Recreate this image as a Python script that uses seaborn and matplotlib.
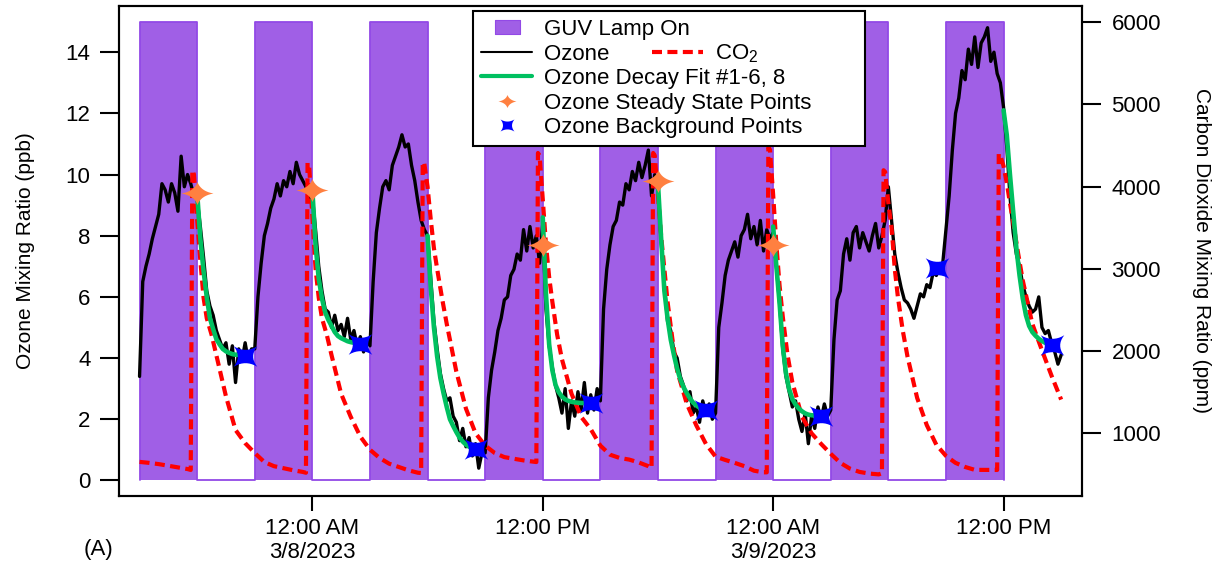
import numpy as np
import pandas as pd
import matplotlib
matplotlib.use("Agg")
import matplotlib.pyplot as plt
import matplotlib.transforms as mtransforms
from matplotlib.path import Path
from matplotlib.lines import Line2D
import seaborn as sns

# ------------------------------------------------------------------ data
# time axis: hours since 3/7/2023 00:00
lamp_on_start_h = [15, 21, 27, 33, 39, 45, 51, 57]
lamp_on_end_h = [18, 24, 30, 36, 42, 48, 54, 60]
lamp_level_ppb = 15

# ozone (ppb), 10-minute readings starting 3/7 15:00, one list per 6 h cycle
ozone_start_h = 15.0
ozone_step_min = 10
ozone_c1 = [3.4, 6.5, 7.0, 7.4, 7.9, 8.3, 8.7, 9.7, 9.5, 9.1, 9.7, 9.4, 8.8, 10.6, 9.6, 10.0, 9.7, 9.3,
            9.2, 8.3, 7.3, 6.2, 5.7, 5.4, 4.9, 4.6, 4.3, 4.5, 3.8, 4.4, 3.2, 4.3, 3.9, 4.5, 3.9, 4.3]
ozone_c2 = [4.3, 6.0, 7.1, 8.0, 8.4, 8.9, 9.2, 9.7, 9.3, 9.8, 9.6, 10.1, 9.7, 10.4, 10.0, 9.8, 9.6, 9.2,
            9.3, 8.2, 7.0, 6.2, 5.6, 5.5, 5.0, 5.4, 4.9, 5.1, 4.7, 5.3, 4.6, 4.9, 4.4, 4.7, 4.2, 4.6]
ozone_c3 = [4.4, 6.5, 8.1, 8.9, 9.6, 9.8, 9.5, 10.3, 10.6, 10.9, 11.3, 10.9, 11.0, 10.3, 9.8, 9.1, 8.5, 8.2,
            8.0, 6.6, 5.2, 4.3, 3.5, 3.0, 2.6, 2.7, 2.1, 1.9, 1.3, 1.7, 1.1, 1.4, 0.8, 1.2, 0.4, 0.9]
ozone_c4 = [0.9, 2.7, 3.6, 4.2, 4.9, 5.3, 5.9, 6.0, 6.7, 6.9, 7.4, 7.2, 8.2, 7.5, 8.3, 7.6, 8.0, 7.1,
            8.4, 5.6, 4.4, 3.7, 3.1, 2.7, 2.2, 3.0, 1.7, 2.6, 2.1, 2.9, 2.3, 3.2, 2.2, 2.8, 2.3, 3.0]
ozone_c5 = [2.6, 5.6, 6.9, 7.7, 8.3, 8.5, 9.1, 9.0, 9.7, 9.5, 10.1, 9.8, 10.4, 9.9, 10.3, 10.8, 9.3, 10.0,
            9.6, 7.8, 6.4, 5.2, 4.9, 4.2, 4.0, 3.4, 3.1, 2.6, 2.9, 2.2, 2.4, 1.9, 2.6, 2.2, 2.5, 2.0]
ozone_c6 = [2.2, 5.0, 5.8, 6.7, 7.2, 7.5, 7.8, 7.3, 8.0, 8.2, 8.7, 7.9, 8.3, 7.7, 8.5, 7.5, 8.2, 7.9,
            8.1, 7.0, 5.8, 4.3, 3.4, 2.9, 2.4, 2.6, 2.0, 1.6, 2.2, 1.2, 2.1, 1.7, 2.4, 2.0, 2.5, 2.1]
ozone_c7 = [2.3, 4.6, 5.9, 6.2, 7.4, 7.9, 7.2, 8.1, 8.3, 7.6, 8.1, 7.8, 7.5, 8.0, 8.4, 7.6, 8.0, 8.5,
            9.6, 8.5, 7.4, 6.8, 6.3, 5.9, 5.8, 5.6, 5.3, 5.7, 6.1, 6.0, 6.4, 6.3, 6.8, 6.7, 7.0, 7.1]
ozone_c8 = [8.2, 9.3, 10.8, 12.0, 12.5, 13.4, 13.1, 14.1, 13.6, 14.5, 13.5, 14.3, 14.5, 14.8, 13.7, 14.0, 13.3, 13.0,
            12.2, 10.9, 9.3, 8.1, 7.4, 7.0, 6.4, 6.0, 5.7, 5.5, 5.6, 6.0, 5.0, 4.8, 4.9, 4.5, 4.2, 3.8, 4.1]

# CO2 (ppm): readings before the first lamp-off, then per cycle at offsets from lamp-off
co2_pre_offsets_min = [-180, -150, -120, -90, -60, -30]
co2_pre_ppm = [652, 640, 625, 605, 585, 565]
co2_offsets_min = [-20, -15, -10, 0, 10, 20, 30, 45, 60, 90, 120, 150, 180, 210, 240, 270, 300, 330]
co2_c1 = [554, 4200, 4150, 3600, 3100, 2650, 2400, 2200, 1950, 1450, 1040, 880, 760, 650, 600, 575, 550, 530]
co2_c2 = [520, 4290, 4250, 3650, 3000, 2650, 2400, 2200, 1950, 1480, 1200, 960, 800, 700, 630, 590, 550, 520]
co2_c3 = [517, 4300, 4280, 4000, 3600, 3250, 3000, 2650, 2330, 1750, 1300, 1000, 850, 760, 710, 690, 670, 655]
co2_c4 = [650, 4410, 4380, 3850, 3300, 2900, 2600, 2200, 1900, 1480, 1200, 1050, 850, 740, 700, 680, 645, 600]
co2_c5 = [578, 4410, 4380, 3900, 3400, 3000, 2600, 2150, 1760, 1360, 1095, 870, 716, 676, 640, 600, 545, 525]
co2_c6 = [525, 4480, 4450, 3900, 3300, 2800, 2420, 1950, 1620, 1200, 1000, 870, 750, 640, 570, 530, 510, 500]
co2_c7 = [513, 4200, 4180, 3800, 3500, 3000, 2650, 2250, 1930, 1430, 1100, 860, 725, 640, 590, 555, 554, 554]
co2_c8 = [554, 4400, 4380, 4250, 4050, 3800, 3570, 3200, 2860, 2330, 2010, 1700, 1410]

# ozone decay fits (ppb), 10-minute readings from lamp-off
fit_start_h = [18, 24, 30, 36, 42, 48, 60]
fit_step_min = 10
fit_1 = [9.4, 7.9, 6.85, 6.0, 5.3, 4.95, 4.62, 4.45, 4.3, 4.22, 4.17, 4.13, 4.11, 4.1, 4.09, 4.08]
fit_2 = [9.5, 7.7, 6.6, 5.95, 5.5, 5.25, 5.05, 4.85, 4.72, 4.65, 4.6, 4.55, 4.52, 4.5, 4.48, 4.47]
fit_3 = [8.0, 6.3, 5.0, 4.05, 3.35, 2.85, 2.4, 2.0, 1.78, 1.58, 1.4, 1.27, 1.17, 1.1, 1.06, 1.04]
fit_4 = [8.6, 6.1, 4.45, 3.6, 3.12, 2.88, 2.74, 2.65, 2.6, 2.57, 2.55, 2.54, 2.53, 2.53, 2.52, 2.52]
fit_5 = [9.7, 7.9, 6.2, 5.3, 4.6, 4.1, 3.65, 3.3, 3.05, 2.85, 2.68, 2.54, 2.45, 2.38, 2.33, 2.3]
fit_6 = [8.3, 7.0, 5.8, 4.4, 3.5, 2.98, 2.66, 2.48, 2.35, 2.26, 2.19, 2.15, 2.13, 2.12, 2.11, 2.11]
fit_8 = [12.1, 11.3, 10.0, 8.8, 7.6, 6.7, 5.95, 5.4, 5.05, 4.85, 4.73, 4.63, 4.56, 4.5, 4.46, 4.43]

steady_h = [18, 24, 36, 42, 48]
steady_ppb = [9.4, 9.5, 7.7, 9.8, 7.7]
background_h = [20.5, 26.5, 32.5, 38.5, 44.5, 50.5, 56.55, 62.5]
background_ppb = [4.08, 4.47, 1.04, 2.52, 2.3, 2.11, 6.93, 4.43]

xtick_h = [24, 36, 48, 60]
xtick_labels = ["12:00 AM\n3/8/2023", "12:00 PM", "12:00 AM\n3/9/2023", "12:00 PM"]
left_ticks = [0, 2, 4, 6, 8, 10, 12, 14]
right_ticks = [1000, 2000, 3000, 4000, 5000, 6000]

# ------------------------------------------------------------------ style
PURPLE = "#A05FE6"
PURPLE_EDGE = "#9249E6"
GREEN = "#00C060"
ORANGE = "#FF8040"
BLUE = "#0000FF"
FS = 16       # tick labels / legend
FS_LAB = 15   # axis labels

sns.set_style("ticks")
plt.rcParams["font.family"] = ["Liberation Sans", "DejaVu Sans"]
plt.rcParams["mathtext.fontset"] = "custom"
plt.rcParams["mathtext.rm"] = "Liberation Sans"
plt.rcParams["mathtext.it"] = "Liberation Sans:italic"
plt.rcParams["mathtext.bf"] = "Liberation Sans:bold"
for k in ["axes.edgecolor", "xtick.color", "ytick.color", "text.color", "axes.labelcolor"]:
    plt.rcParams[k] = "black"
plt.rcParams["axes.linewidth"] = 1.5


def concave_marker(tips, pull, n=10):
    verts = []
    for i in range(len(tips)):
        p0 = np.array(tips[i], float)
        p2 = np.array(tips[(i + 1) % len(tips)], float)
        c = pull * (p0 + p2)
        for t in np.linspace(0, 1, n)[:-1]:
            verts.append((1 - t) ** 2 * p0 + 2 * (1 - t) * t * c + t ** 2 * p2)
    verts.append(verts[0])
    return Path(np.array(verts), closed=True)


star_marker = concave_marker([(1, 0), (0, 0.72), (-1, 0), (0, -0.72)], 0.2)
bg_marker = concave_marker([(1, 0.87), (-1, 0.87), (-1, -0.87), (1, -0.87)], 0.15)
rect_marker = Path([(-1, -0.56), (1, -0.56), (1, 0.56), (-1, 0.56), (-1, -0.56)], closed=True)

W, H = 1227, 571
fig = plt.figure(figsize=(W / 100, H / 100), dpi=100)
ax = fig.add_axes([119 / W, 1 - 496 / H, (1081.7 - 119) / W, 490 / H])
ax2 = ax.twinx()

ax.set_xlim(13.93, 64.07)
ax.set_ylim(-0.51, 15.51)
ax2.set_ylim(237, 6198)

# lamp-on bars + step outline
starts = np.array(lamp_on_start_h, float)
ends = np.array(lamp_on_end_h, float)
ax.bar(starts, [lamp_level_ppb] * len(starts), width=ends - starts, align="edge",
       color=PURPLE, linewidth=0, zorder=1)
edge_t, edge_v = [], []
for s, e in zip(starts, ends):
    edge_t += [s, s, e, e]
    edge_v += [0, lamp_level_ppb, lamp_level_ppb, 0]
ax.plot(edge_t, edge_v, color=PURPLE_EDGE, linewidth=1.3, zorder=1.5)

# ozone
ozone_ppb = ozone_c1 + ozone_c2 + ozone_c3 + ozone_c4 + ozone_c5 + ozone_c6 + ozone_c7 + ozone_c8
ozone_h = ozone_start_h + np.arange(len(ozone_ppb)) * ozone_step_min / 60.0
sns.lineplot(x=ozone_h, y=ozone_ppb, ax=ax, color="black", linewidth=2.4,
             estimator=None, sort=False, zorder=2)

# CO2 (drawn in the ozone axes, using the right-hand axis scale)
co2_cycles = [co2_c1, co2_c2, co2_c3, co2_c4, co2_c5, co2_c6, co2_c7, co2_c8]
co2_h = [lamp_on_end_h[0] + m / 60.0 for m in co2_pre_offsets_min]
co2_ppm = list(co2_pre_ppm)
for T, vals in zip(lamp_on_end_h, co2_cycles):
    co2_h += [T + m / 60.0 for m in co2_offsets_min[:len(vals)]]
    co2_ppm += vals
blend = mtransforms.blended_transform_factory(ax.transData, ax2.transData)
co2_line, = ax.plot(co2_h, co2_ppm, color="red", linewidth=3.0, transform=blend, zorder=2.5)
co2_line.set_dashes((2.4, 1.3))

# decay fits
fits = [fit_1, fit_2, fit_3, fit_4, fit_5, fit_6, fit_8]
rows = []
for i, (T, vals) in enumerate(zip(fit_start_h, fits)):
    for k, v in enumerate(vals):
        rows.append((i, T + k * fit_step_min / 60.0, v))
df_fit = pd.DataFrame(rows, columns=["fit", "hour", "ppb"])
sns.lineplot(data=df_fit, x="hour", y="ppb", units="fit", estimator=None, color=GREEN,
             linewidth=3.3, ax=ax, zorder=3, legend=False)

# points
ax.plot(steady_h, steady_ppb, linestyle="none", marker=star_marker, markersize=23,
        color=ORANGE, markeredgewidth=0, zorder=4)
ax.plot(background_h, background_ppb, linestyle="none", marker=bg_marker, markersize=17,
        color=BLUE, markeredgewidth=0, zorder=4)

# axes cosmetics
ax.set_xticks(xtick_h, xtick_labels)
ax.set_yticks(left_ticks)
ax2.set_yticks(right_ticks)
ax.tick_params(axis="x", direction="out", length=11, width=1.5, pad=5, labelsize=FS)
ax.tick_params(axis="y", direction="out", length=13.5, width=1.5, pad=7, labelsize=FS)
ax2.tick_params(axis="y", direction="out", length=13.5, width=1.5, pad=8, labelsize=FS)
ax.set_xlabel("")
ax.set_ylabel("Ozone Mixing Ratio (ppb)", fontsize=FS_LAB)
ax.yaxis.set_label_coords(-0.087, 0.5)
ax2.set_ylabel("Carbon Dioxide Mixing Ratio (ppm)", fontsize=FS_LAB, rotation=270, va="bottom")
ax2.yaxis.set_label_coords(1.1146, 0.5)
for a in (ax, ax2):
    for sp in a.spines.values():
        sp.set_visible(True)
        sp.set_color("black")
        sp.set_linewidth(1.5)

# legend
handles = [
    Line2D([], [], linestyle="none", marker=rect_marker, markersize=18,
           markerfacecolor=PURPLE, markeredgecolor=PURPLE_EDGE, markeredgewidth=0.8),
    Line2D([], [], color="black", linewidth=1.5),
    Line2D([], [], color=GREEN, linewidth=3.0),
    Line2D([], [], linestyle="none", marker=star_marker, markersize=13, color=ORANGE, markeredgewidth=0),
    Line2D([], [], linestyle="none", marker=bg_marker, markersize=10, color=BLUE, markeredgewidth=0),
]
labels = ["GUV Lamp On", "Ozone", "Ozone Decay Fit #1-6, 8",
          "Ozone Steady State Points", "Ozone Background Points"]
x0 = (473 - 119) / 962.7
x1 = (865 - 119) / 962.7
ytop = (496 - 11) / 490
leg = ax.legend(handles, labels, loc="upper left", bbox_to_anchor=(x0, ytop - 0.3, x1 - x0, 0.3),
                mode="expand", borderaxespad=0, fontsize=FS, handlelength=2.3,
                handletextpad=0.54, borderpad=0.36, labelspacing=0.16, frameon=True,
                fancybox=False, framealpha=1, edgecolor="black", numpoints=1)
leg.get_frame().set_linewidth(1.5)
leg.set_zorder(10)

# CO2 entry on the "Ozone" row of the legend
fig.canvas.draw()
renderer = fig.canvas.get_renderer()
oz_txt = leg.get_texts()[1]
tx, ty = oz_txt.get_transform().transform(oz_txt.get_position())
hb = leg.legend_handles[1].get_window_extent(renderer)
y_line = (hb.y0 + hb.y1) / 2
inv = fig.transFigure.inverted()
p_a = inv.transform((tx + 108, y_line))
p_b = inv.transform((tx + 159, y_line))
co2_handle = Line2D([p_a[0], p_b[0]], [p_a[1], p_b[1]], transform=fig.transFigure,
                    color="red", linewidth=3.0, zorder=20)
co2_handle.set_dashes((2.4, 1.3))
fig.add_artist(co2_handle)
p_t = inv.transform((tx + 171, ty))
fig.text(p_t[0], p_t[1], "CO$_2$", fontsize=FS, ha="left", va="baseline", zorder=20)

fig.text(98.5 / W, 1 - 549 / H, "(A)", fontsize=FS, ha="center", va="center")

fig.savefig("out.png", dpi=100)
